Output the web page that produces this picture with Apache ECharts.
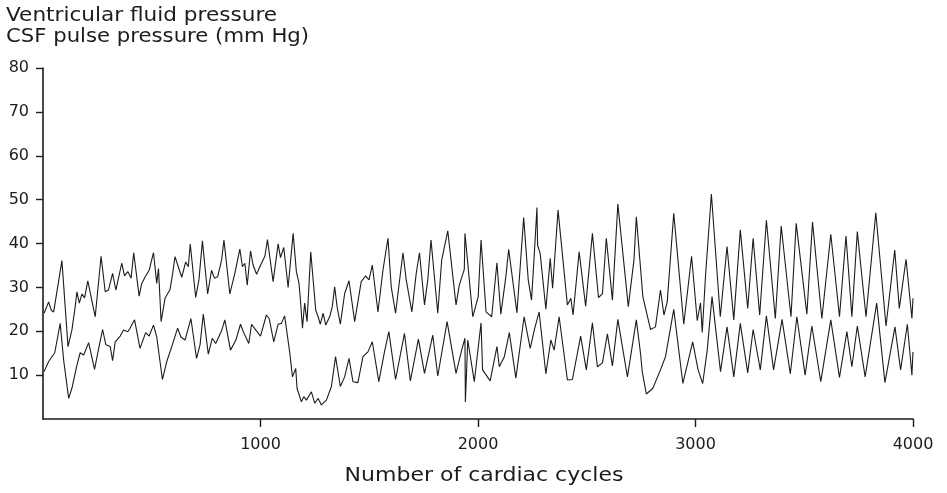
<!DOCTYPE html>
<html>
<head>
<meta charset="utf-8">
<script src="https://cdn.jsdelivr.net/npm/echarts@6/dist/echarts.min.js"></script>
<style>
  html, body { margin: 0; padding: 0; background: #fff; }
  #chart { width: 947px; height: 493px; }
</style>
</head>
<body>
<div id="chart"></div>
<script>
// Ventricular fluid pressure (upper trace), [cardiac cycle, mm Hg]
const ventricularPressure = [
  [5,24.1],[26,26.7],[38,24.8],[49,24.4],[87,36.1],[115,16.5],[133,20.3],[148,25.6],[156,29.0],[167,26.4],
  [179,28.5],[191,27.6],[206,31.5],[240,23.3],[267,37.1],[286,29.0],[301,29.4],[320,33.2],[335,29.4],[362,35.5],
  [375,32.6],[390,33.6],[405,32.1],[417,37.9],[442,28.0],[454,30.9],[472,32.6],[488,33.9],[508,37.9],[523,30.9],
  [531,34.3],[543,22.2],[561,27.5],[584,29.5],[595,32.8],[607,37.0],[622,34.7],[638,32.3],[656,35.8],[668,34.7],
  [677,39.9],[702,27.7],[717,31.7],[733,40.6],[757,28.5],[775,33.9],[788,32.1],[803,32.4],[821,36.2],[832,40.8],
  [859,28.5],[882,33.2],[905,38.7],[917,34.7],[928,35.5],[939,30.5],[954,38.3],[966,35.1],[982,33.0],[997,34.7],
  [1020,37.1],[1032,40.9],[1058,31.3],[1081,39.9],[1092,36.8],[1107,39.1],[1127,30.0],[1150,42.3],[1165,33.6],[1177,30.9],
  [1183,27.5],[1193,20.7],[1203,26.4],[1214,22.2],[1231,38.1],[1254,24.8],[1265,23.3],[1275,21.6],[1288,24.1],[1300,21.4],
  [1318,23.3],[1330,25.6],[1341,30.1],[1352,25.6],[1367,21.6],[1387,28.6],[1407,31.5],[1433,22.2],[1463,31.3],[1483,32.6],
  [1499,31.7],[1514,35.1],[1540,24.4],[1563,33.9],[1586,41.2],[1601,30.1],[1621,24.1],[1655,37.9],[1670,31.7],[1696,24.4],
  [1716,33.2],[1731,37.9],[1754,26.0],[1769,31.7],[1784,40.8],[1815,24.1],[1833,36.2],[1861,42.9],[1899,26.0],[1914,30.5],
  [1937,34.1],[1940,42.3],[1976,23.3],[2001,27.9],[2014,40.8],[2037,24.4],[2063,23.3],[2087,35.6],[2105,23.9],[2128,32.4],
  [2141,38.7],[2179,24.2],[2210,45.9],[2231,31.7],[2246,27.1],[2258,36.8],[2271,48.2],[2274,39.6],[2286,37.7],[2312,25.0],
  [2332,36.6],[2343,29.8],[2350,34.7],[2368,47.6],[2411,26.0],[2427,27.5],[2437,23.7],[2465,38.1],[2495,25.7],[2526,42.3],
  [2554,27.7],[2572,28.5],[2590,41.2],[2618,27.1],[2643,49.0],[2691,25.6],[2717,36.2],[2728,46.1],[2758,27.9],[2793,20.4],
  [2816,21.0],[2839,29.4],[2855,23.7],[2870,26.7],[2900,46.9],[2946,21.6],[2982,37.1],[3008,22.4],[3023,26.5],[3031,19.7],
  [3046,32.6],[3073,51.3],[3114,23.3],[3145,39.3],[3176,22.6],[3206,43.1],[3240,25.2],[3265,41.2],[3295,23.7],[3326,45.3],
  [3367,22.9],[3394,44.0],[3439,23.3],[3463,44.6],[3512,23.9],[3538,44.9],[3581,22.9],[3622,42.1],[3662,23.3],[3692,41.7],
  [3719,23.3],[3744,42.7],[3784,23.3],[3829,47.0],[3876,21.2],[3916,38.5],[3937,25.2],[3968,36.4],[3995,22.9],[4000,27.5]
];

// CSF pulse pressure (lower trace), [cardiac cycle, mm Hg]
const csfPulsePressure = [
  [5,10.8],[26,13.1],[54,15.1],[79,21.8],[95,13.4],[118,4.7],[133,7.0],[156,12.3],[171,15.1],[187,14.6],
  [210,17.4],[237,11.3],[258,16.6],[274,20.4],[289,16.9],[309,16.5],[320,13.3],[332,17.6],[355,18.9],[370,20.3],
  [390,19.9],[400,20.7],[421,22.6],[446,16.1],[472,19.7],[488,18.9],[508,21.4],[523,18.7],[549,9.0],[569,13.1],
  [592,16.5],[619,20.7],[634,18.7],[653,18.0],[680,22.9],[706,13.8],[722,16.9],[737,23.9],[760,14.8],[778,18.4],
  [794,17.2],[821,20.1],[836,22.6],[862,15.7],[887,18.0],[908,21.6],[921,19.9],[946,17.2],[959,21.6],[978,20.3],
  [1000,18.9],[1027,23.7],[1040,22.9],[1061,17.6],[1081,21.6],[1096,21.8],[1111,23.5],[1134,15.3],[1147,9.6],[1162,11.5],
  [1168,7.0],[1188,3.9],[1199,5.1],[1211,4.3],[1234,6.2],[1249,3.6],[1265,4.7],[1280,3.2],[1303,4.3],[1326,7.4],
  [1345,14.2],[1367,7.4],[1387,9.6],[1407,13.8],[1425,8.5],[1448,8.3],[1471,14.2],[1494,15.3],[1514,17.6],[1544,8.5],
  [1570,15.3],[1590,19.9],[1621,9.0],[1662,19.5],[1689,8.7],[1726,18.2],[1754,10.4],[1792,19.1],[1815,9.8],[1858,22.2],
  [1899,10.4],[1925,15.7],[1940,18.4],[1942,3.9],[1953,18.0],[1983,8.5],[2014,21.9],[2021,11.2],[2056,8.7],[2087,16.5],
  [2098,11.9],[2121,14.2],[2144,19.7],[2174,9.3],[2212,23.3],[2240,16.1],[2261,20.7],[2281,24.4],[2312,10.3],[2335,18.0],
  [2350,15.7],[2373,23.3],[2411,8.9],[2434,9.0],[2472,18.9],[2498,11.2],[2526,21.9],[2549,11.9],[2572,12.8],[2595,19.4],
  [2618,12.1],[2643,22.7],[2687,9.6],[2728,22.6],[2748,14.6],[2755,10.8],[2774,5.7],[2804,7.0],[2839,11.2],[2862,14.2],
  [2900,25.0],[2942,8.1],[2987,17.6],[3012,11.2],[3033,8.1],[3054,15.7],[3076,27.9],[3115,10.8],[3145,21.0],[3176,9.6],
  [3206,21.8],[3240,10.5],[3265,20.4],[3298,11.2],[3326,23.5],[3359,11.2],[3398,22.7],[3436,10.3],[3466,23.3],[3504,10.0],
  [3535,21.2],[3576,8.5],[3622,22.6],[3662,9.5],[3696,19.9],[3719,11.9],[3744,21.2],[3780,9.6],[3833,26.4],[3871,8.3],
  [3917,21.0],[3943,11.2],[3974,21.6],[3995,10.0],[4000,15.3]
];

// Axis ticks and labels
const xTicks = [1000, 2000, 3000, 4000];
const yTicks = [10, 20, 30, 40, 50, 60, 70, 80];
const titleLines = ['Ventricular fluid pressure', 'CSF pulse pressure (mm Hg)'];
const xAxisTitle = 'Number of cardiac cycles';

const FONT = '"DejaVu Sans", "Noto Sans", sans-serif';
const INK = '#1c1c1c';

const chart = echarts.init(document.getElementById('chart'), null, { renderer: 'canvas' });

const traceStyle = {
  type: 'line',
  symbol: 'none',
  smooth: false,
  animation: false,
  lineStyle: { color: INK, width: 1.1 },
  z: 3
};

chart.setOption({
  backgroundColor: '#ffffff',
  animation: false,
  grid: { left: 43, right: 34, top: 68, bottom: 74, containLabel: false },
  xAxis: {
    type: 'value',
    min: 0,
    max: 4000,
    interval: 1000,
    axisLine: { show: true, onZero: false, lineStyle: { color: INK, width: 1.6 } },
    axisTick: {
      show: true, length: 8, inside: false,
      customValues: xTicks,
      lineStyle: { color: INK, width: 1.4 }
    },
    axisLabel: {
      show: true, margin: 18,
      customValues: xTicks,
      formatter: (v) => String(v),
      fontFamily: FONT, fontSize: 16, color: INK
    },
    splitLine: { show: false }
  },
  yAxis: {
    type: 'value',
    min: 0,
    max: 80,
    interval: 10,
    axisLine: { show: true, onZero: false, lineStyle: { color: INK, width: 1.6 } },
    axisTick: {
      show: true, length: 7, inside: false,
      customValues: yTicks,
      lineStyle: { color: INK, width: 1.4 }
    },
    axisLabel: {
      show: true, margin: 14,
      customValues: yTicks,
      formatter: (v) => String(v),
      fontFamily: FONT, fontSize: 16, color: INK
    },
    splitLine: { show: false }
  },
  graphic: [
    {
      type: 'text', x: 6, y: 16, scaleX: 1.08, silent: true,
      style: {
        text: titleLines[0], x: 0, y: 0,
        font: '20px ' + FONT, fill: INK,
        textAlign: 'left', textVerticalAlign: 'middle', verticalAlign: 'middle'
      }
    },
    {
      type: 'text', x: 6, y: 37, scaleX: 1.06, silent: true,
      style: {
        text: titleLines[1], x: 0, y: 0,
        font: '20px ' + FONT, fill: INK,
        textAlign: 'left', textVerticalAlign: 'middle', verticalAlign: 'middle'
      }
    },
    {
      type: 'text', x: 484, y: 476, scaleX: 1.1, silent: true,
      style: {
        text: xAxisTitle, x: 0, y: 0,
        font: '20px ' + FONT, fill: INK,
        textAlign: 'center', textVerticalAlign: 'middle', verticalAlign: 'middle'
      }
    }
  ],
  series: [
    Object.assign({ name: 'Ventricular fluid pressure', data: ventricularPressure }, traceStyle),
    Object.assign({ name: 'CSF pulse pressure', data: csfPulsePressure }, traceStyle)
  ]
});
</script>
</body>
</html>
